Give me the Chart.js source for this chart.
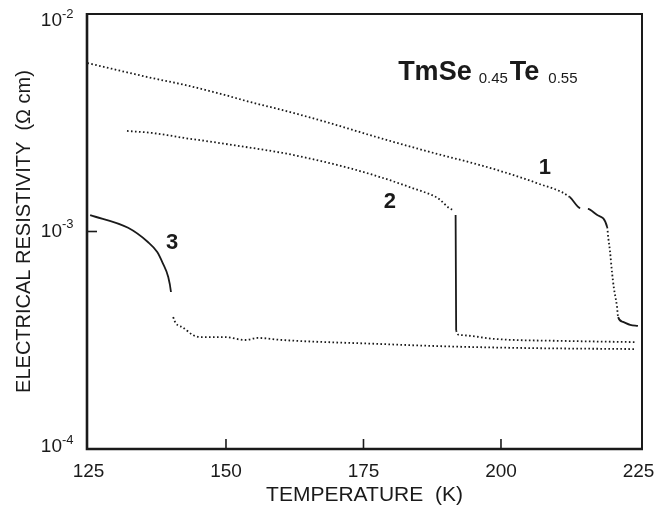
<!DOCTYPE html>
<html>
<head>
<meta charset="utf-8">
<script src="https://cdn.jsdelivr.net/npm/chart.js@4.4.0/dist/chart.umd.min.js"></script>
<style>
  html, body { margin: 0; padding: 0; background: #fff; }
  #wrap { width: 657px; height: 508px; }
</style>
</head>
<body>
<div id="wrap"><canvas id="chart"></canvas></div>
<script>
// temperature (K) and resistivity (ohm cm)
const curve1T = [124.8, 136.5, 142.5, 148.5, 154.7, 160.2, 167.6, 178.0, 187.1, 196.2, 200.4, 206.5, 212.5,
                 214.4, 215.8, 217.5, 219.3, 219.5, 219.8, 220.2, 220.5, 221.1, 221.3, 222.2, 223.5, 224.9];
const curve1R = [5.95e-3, 5.08e-3, 4.72e-3, 4.33e-3, 3.92e-3, 3.62e-3, 3.22e-3, 2.69e-3, 2.32e-3, 2.02e-3, 1.88e-3, 1.67e-3, 1.44e-3,
                 1.28e-3, 1.27e-3, 1.19e-3, 1.05e-3, 9.4e-4, 8.2e-4, 6.45e-4, 5.56e-4, 4.50e-4, 4.04e-4, 3.84e-4, 3.72e-4, 3.68e-4];

const curve2T = [132.0, 136.5, 140.2, 142.5, 146.2, 151.6, 160.2, 165.8, 172.0, 178.0, 184.0, 188.4, 191.3,
                 191.75, 191.85, 192.5, 199.3, 211.3, 224.7];
const curve2R = [2.90e-3, 2.84e-3, 2.75e-3, 2.69e-3, 2.61e-3, 2.49e-3, 2.30e-3, 2.15e-3, 1.97e-3, 1.78e-3, 1.58e-3, 1.43e-3, 1.26e-3,
                 1.19e-3, 3.52e-4, 3.34e-4, 3.20e-4, 3.14e-4, 3.10e-4];

const curve3T = [125.3, 132.2, 135.8, 137.5, 138.5, 139.5, 140.0, 140.4, 142.0, 144.0, 145.6, 149.8, 153.5,
                 155.8, 160.2, 178.0, 187.1, 195.6, 205.3, 224.4];
const curve3R = [1.19e-3, 1.04e-3, 8.95e-4, 8.05e-4, 7.16e-4, 6.18e-4, 5.27e-4, 4.04e-4, 3.64e-4, 3.34e-4, 3.27e-4, 3.27e-4, 3.17e-4,
                 3.24e-4, 3.17e-4, 3.04e-4, 2.98e-4, 2.94e-4, 2.91e-4, 2.88e-4];

const xTicks = [125, 150, 175, 200, 225];
const yTicks = [1e-2, 1e-3, 1e-4];
const yTickExp = ['-2', '-3', '-4'];

// curve labels: text, T, rho
const curveLabels = [['1', 208.0, 1.96e-3], ['2', 179.8, 1.37e-3], ['3', 140.2, 8.85e-4]];

const INK = '#1a1a1a';
const DOT = [1.6, 2.4];
const FONT = '"Liberation Sans", Arial, Helvetica, sans-serif';

function pts(t, r) {
    return t.map((v, i) => ({x: v, y: r[i]}));
}

// segment index lists: which pieces are solid, which are blank
function segStyle(solid, gaps) {
    return {
        borderDash: ctx => solid.includes(ctx.p0DataIndex) ? [] : DOT,
        borderColor: ctx => gaps.includes(ctx.p0DataIndex) ? 'rgba(0,0,0,0)' : INK
    };
}

function range(a, b) {
    let out = [];
    for (let i = a; i <= b; i++) out.push(i);
    return out;
}

const decorations = {
    id: 'decorations',
    afterDraw(chart) {
        const c = chart.ctx;
        const a = chart.chartArea;
        const xs = chart.scales.x;
        const ys = chart.scales.y;
        c.save();
        c.strokeStyle = INK;
        c.fillStyle = INK;

        // frame
        c.lineWidth = 2;
        c.beginPath();
        c.moveTo(a.left, a.top); c.lineTo(a.right, a.top); c.lineTo(a.right, a.bottom);
        c.stroke();
        c.lineWidth = 2.6;
        c.beginPath();
        c.moveTo(a.left, a.top - 1); c.lineTo(a.left, a.bottom); c.lineTo(a.right + 1, a.bottom);
        c.stroke();

        // inward ticks
        c.lineWidth = 1.6;
        xTicks.slice(1, -1).forEach(v => {
            const px = xs.getPixelForValue(v);
            c.beginPath(); c.moveTo(px, a.bottom); c.lineTo(px, a.bottom - 10); c.stroke();
        });
        yTicks.slice(1, -1).forEach(v => {
            const py = ys.getPixelForValue(v);
            c.beginPath(); c.moveTo(a.left, py); c.lineTo(a.left + 10, py); c.stroke();
        });

        // y tick labels 10^n
        const nudge = [7, 0, -2];
        yTicks.forEach((v, i) => {
            const py = ys.getPixelForValue(v) + nudge[i];
            c.textBaseline = 'middle';
            c.textAlign = 'right';
            c.font = '19px ' + FONT;
            c.fillText('10', a.left - 25, py);
            c.textAlign = 'left';
            c.font = '13px ' + FONT;
            c.fillText(yTickExp[i], a.left - 25, py - 7);
        });

        // curve numbers
        c.font = 'bold 22px ' + FONT;
        c.textAlign = 'center';
        c.textBaseline = 'middle';
        curveLabels.forEach(l => {
            c.fillText(l[0], xs.getPixelForValue(l[1]), ys.getPixelForValue(l[2]));
        });

        // compound name
        let x = xs.getPixelForValue(181.3);
        const base = ys.getPixelForValue(4.97e-3);
        c.textAlign = 'left';
        c.textBaseline = 'alphabetic';
        const parts = [['TmSe', 'bold 27px ', 0, 7], ['0.45', '15px ', 3, 2], ['Te', 'bold 27px ', 0, 9], ['0.55', '15px ', 3, 0]];
        parts.forEach(p => {
            c.font = p[1] + FONT;
            c.fillText(p[0], x, base + p[2]);
            x += c.measureText(p[0]).width + p[3];
        });
        c.restore();
    }
};

new Chart(document.getElementById('chart'), {
    type: 'line',
    data: {
        datasets: [
            {label: '1', data: pts(curve1T, curve1R), segment: segStyle([12, 14, 15, 22, 23, 24], [13])},
            {label: '2', data: pts(curve2T, curve2R), segment: segStyle([13], [12])},
            {label: '3', data: pts(curve3T, curve3R), segment: segStyle(range(0, 5), [6])}
        ]
    },
    options: {
        responsive: true,
        maintainAspectRatio: false,
        animation: false,
        events: [],
        datasets: {
            line: {
                borderColor: INK,
                borderWidth: 1.8,
                pointRadius: 0,
                fill: false,
                cubicInterpolationMode: 'monotone'
            }
        },
        layout: {padding: {top: 14, right: 15, left: 0, bottom: 0}},
        plugins: {
            legend: {display: false},
            tooltip: {enabled: false}
        },
        scales: {
            x: {
                type: 'linear',
                min: 124.73,
                max: 225.64,
                afterBuildTicks: s => { s.ticks = xTicks.map(v => ({value: v})); },
                afterFit: s => { s.height = 59; s.paddingLeft = 0; s.paddingRight = 0; },
                grid: {display: false, drawTicks: false},
                border: {display: false},
                ticks: {
                    color: INK,
                    font: {family: FONT, size: 19},
                    padding: 11,
                    maxRotation: 0,
                    autoSkip: false
                },
                title: {
                    display: true,
                    text: 'TEMPERATURE  (K)',
                    color: INK,
                    font: {family: FONT, size: 21},
                    padding: {top: -3, bottom: 0}
                }
            },
            y: {
                type: 'logarithmic',
                min: 1e-4,
                max: 1e-2,
                afterFit: s => { s.width = 87; s.paddingTop = 0; s.paddingBottom = 0; },
                grid: {display: false, drawTicks: false},
                border: {display: false},
                ticks: {display: false},
                title: {
                    display: true,
                    text: 'ELECTRICAL RESISTIVITY  (\u03A9 cm)',
                    color: INK,
                    font: {family: FONT, size: 20},
                    padding: {top: 12, bottom: 0}
                }
            }
        }
    },
    plugins: [decorations]
});
</script>
</body>
</html>
